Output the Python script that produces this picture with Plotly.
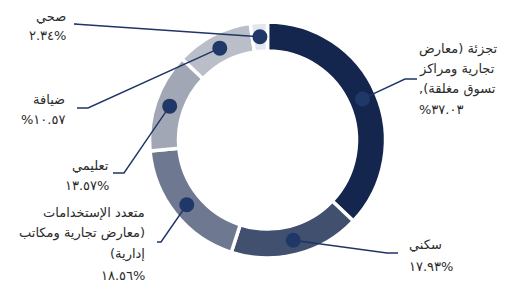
import math
import plotly.graph_objects as go

# ---------------- data ----------------
categories = ["تجزئة", "سكني", "متعدد الإستخدامات", "تعليمي", "ضيافة", "صحي"]
values = [37.03, 17.93, 18.56, 13.57, 10.57, 2.34]
label_lines = [
    ["تجزئة (معارض", "تجارية ومراكز", "تسوق مغلقة),"],
    ["سكني"],
    ["متعدد الإستخدامات", "(معارض تجارية ومكاتب", "إدارية)"],
    ["تعليمي"],
    ["ضيافة"],
    ["صحي"],
]
pct_labels = ["%٣٧.٠٣", "١٧.٩٣%", "١٨.٥٦%", "١٣.٥٧%", "%١٠.٥٧", "٢.٣٤%"]
colors = ["#15264e", "#42506f", "#6e7891", "#a1a7b5", "#b9bec9", "#e5e7ee"]

# ---------------- layout constants (pixels) ----------------
W, H = 527, 282
CX, CY = 267.5, 140.0
R_OUT, R_IN = 118.0, 89.0
R_DOT = (R_OUT + R_IN) / 2
label_layout = [
    dict(x=417, y=49, anchor="left", elbow=(405, 79), end=(417, 79), step=20),
    dict(x=407, y=244, anchor="left", elbow=(387, 253), end=(398, 253), step=22),
    dict(x=147, y=212, anchor="right", elbow=(161, 242), end=(157, 242), step=21),
    dict(x=111, y=165, anchor="right", elbow=(124, 173), end=(113, 173), step=20),
    dict(x=67, y=99, anchor="right", elbow=(88, 108), end=(77, 108), step=20),
    dict(x=68, y=16, anchor="right", elbow=(74, 24), end=(77, 24), step=19),
]

RLM = "\u200f"


def rtl(s):
    # right-to-left paragraph behaviour for Arabic lines
    return RLM + s + RLM


fig = go.Figure()

fig.add_trace(go.Pie(
    labels=categories,
    values=values,
    sort=False,
    direction="clockwise",
    rotation=0,
    hole=R_IN / R_OUT,
    marker=dict(colors=colors, line=dict(color="#ffffff", width=3.5)),
    textinfo="none",
    hoverinfo="label+percent",
    showlegend=False,
    domain=dict(
        x=[(CX - R_OUT) / W, (CX + R_OUT) / W],
        y=[(H - CY - R_OUT) / H, (H - CY + R_OUT) / H],
    ),
))

total = sum(values)
cum = 0.0
dot_x, dot_y = [], []
for v in values:
    mid = (cum + v / 2) / total * 2 * math.pi
    cum += v
    dot_x.append(CX + R_DOT * math.sin(mid))
    dot_y.append(CY - R_DOT * math.cos(mid))

shapes = []
line_color = "#1f3566"
DOT_R = 7.5
for i in range(len(values)):
    L = label_layout[i]
    shapes.append(dict(
        type="path", xref="x", yref="y", layer="above",
        path=f"M {dot_x[i]:.2f} {dot_y[i]:.2f} L {L['elbow'][0]} {L['elbow'][1]} L {L['end'][0]} {L['end'][1]}",
        line=dict(color=line_color, width=1.4),
    ))
for i in range(len(values)):
    shapes.append(dict(
        type="circle", xref="x", yref="y", layer="above",
        x0=dot_x[i] - DOT_R, x1=dot_x[i] + DOT_R,
        y0=dot_y[i] - DOT_R, y1=dot_y[i] + DOT_R,
        fillcolor="#203868", line=dict(width=0),
    ))

# invisible anchor trace so the cartesian axes exist
fig.add_trace(go.Scatter(x=[0, W], y=[0, H], mode="markers",
                         marker=dict(opacity=0), hoverinfo="skip", showlegend=False))

annotations = []
for i in range(len(values)):
    L = label_layout[i]
    lines = [rtl(t) for t in label_lines[i]] + [pct_labels[i]]
    for k, t in enumerate(lines):
        annotations.append(dict(
            x=L["x"], y=L["y"] + k * L["step"], xref="x", yref="y",
            text=t, showarrow=False,
            xanchor=L["anchor"], yanchor="middle",
            font=dict(family="DejaVu Sans", size=13, color="#2b2b2b"),
        ))

fig.update_layout(
    width=W, height=H,
    margin=dict(l=0, r=0, t=0, b=0),
    paper_bgcolor="#ffffff",
    plot_bgcolor="rgba(0,0,0,0)",
    xaxis=dict(range=[0, W], visible=False, fixedrange=True),
    yaxis=dict(range=[H, 0], visible=False, fixedrange=True),
    annotations=annotations,
    shapes=shapes,
    showlegend=False,
)

fig.write_html("out.html", config={"displayModeBar": False},
               post_script="document.body.style.margin='0';")
